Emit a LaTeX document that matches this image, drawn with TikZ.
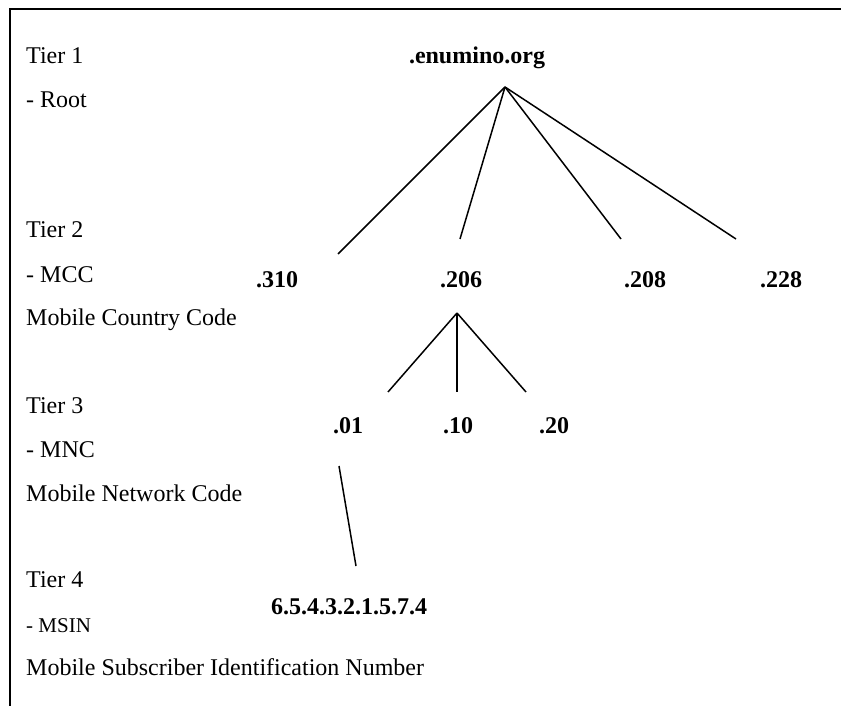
\documentclass[tikz,border=0pt]{standalone}
\usepackage{fontspec}
\setmainfont{Liberation Serif}
\begin{document}
\begin{tikzpicture}[x=1pt,y=-1pt,
  lbl/.style={inner sep=0pt,anchor=base west,font=\fontsize{24}{28}\selectfont},
  small/.style={inner sep=0pt,anchor=base west,font=\fontsize{21}{25}\selectfont},
  dom/.style={inner sep=0pt,anchor=base,font=\fontsize{24}{28}\selectfont\bfseries},
  edge/.style={line width=1.5pt},
  frame/.style={line width=2pt}]
\useasboundingbox (0,0) rectangle (841,706);
% frame
\draw[frame] (9.5,706) -- (9.5,9.5) -- (841,9.5);
% left column
\node[lbl] (t1) at (26,64) {Tier 1};
\node[lbl] (t1a) at (26,108) {- Root};
\node[lbl] (t2) at (26,237) {Tier 2};
\node[lbl] (t2a) at (26,282) {- MCC};
\node[lbl] (t2b) at (26,325) {Mobile Country Code};
\node[lbl] (t3) at (26,413) {Tier 3};
\node[lbl] (t3a) at (26,457) {- MNC};
\node[lbl] (t3b) at (26,501) {Mobile Network Code};
\node[lbl] (t4) at (26,587) {Tier 4};
\node[small] (t4a) at (26,632) {- MSIN};
\node[lbl] (t4b) at (26,675) {Mobile Subscriber Identification Number};
% domain nodes
\node[dom] (root) at (477,64) {.enumino.org};
\node[dom] (c310) at (277,287) {.310};
\node[dom] (c206) at (461,287) {.206};
\node[dom] (c208) at (645,287) {.208};
\node[dom] (c228) at (781,287) {.228};
\node[dom] (n01) at (348,433) {.01};
\node[dom] (n10) at (458,433) {.10};
\node[dom] (n20) at (554,433) {.20};
\node[dom] (msin) at (349,614) {6.5.4.3.2.1.5.7.4};
% connector end points
\coordinate (rootpt) at (505,87);
\coordinate (e310) at (338,254);
\coordinate (e206) at (460,239);
\coordinate (e208) at (621,239);
\coordinate (e228) at (736,239);
\coordinate (p206) at (457,313);
\coordinate (e01) at (388,392);
\coordinate (e10) at (457,392);
\coordinate (e20) at (526,392);
\coordinate (p01) at (339,466);
\coordinate (emsin) at (356,566);
% connectors
\draw[edge] (rootpt) -- (e310);
\draw[edge] (rootpt) -- (e206);
\draw[edge] (rootpt) -- (e208);
\draw[edge] (rootpt) -- (e228);
\draw[edge] (p206) -- (e01);
\draw[edge] (p206) -- (e10);
\draw[edge] (p206) -- (e20);
\draw[edge] (p01) -- (emsin);
\end{tikzpicture}
\end{document}
